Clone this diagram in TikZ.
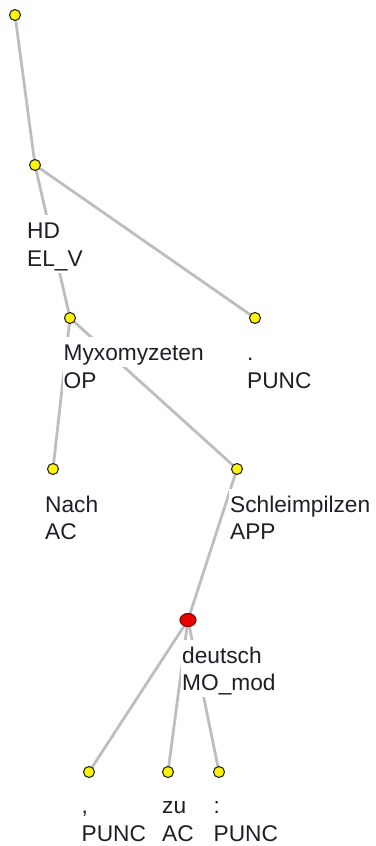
\documentclass[tikz,border=0pt]{standalone}
\usepackage{fontspec}
\setmainfont{Liberation Sans}
\usetikzlibrary{shapes.geometric}
\pgfdeclarelayer{bg}
\pgfdeclarelayer{edges}
\pgfsetlayers{bg,edges,main}
\definecolor{edgegray}{RGB}{190,190,190}
\definecolor{txt}{RGB}{30,30,40}
\definecolor{dotyellow}{RGB}{255,245,0}
\definecolor{dotred}{RGB}{230,0,0}
\tikzset{
 dot/.style={circle, fill=dotyellow, draw=black!85, line width=1.1pt, minimum size=11pt, inner sep=0pt},
 reddot/.style={ellipse, fill=dotred, draw=red!50!black, line width=1.1pt, minimum width=16pt, minimum height=13pt, inner sep=0pt},
 lab/.style={anchor=base west, fill=white, inner sep=1pt, text height=22pt, text depth=6pt, text=txt, font=\fontsize{22.7pt}{28pt}\selectfont},
 edge/.style={draw=edgegray, line width=2.8pt}
}
\begin{document}
\begin{tikzpicture}[x=1pt,y=-1pt]
\begin{pgfonlayer}{bg}
\fill[white] (0,0) rectangle (375,846);
\end{pgfonlayer}
\useasboundingbox (0,0) rectangle (375,846);
% dots
\node[dot] (r) at (15,15) {};
\node[dot] (n1) at (35,165) {};
\node[dot] (n2) at (70,318) {};
\node[dot] (n3) at (255,318) {};
\node[dot] (n4) at (53,469) {};
\node[dot] (n5) at (237,469) {};
\node[reddot] (n6) at (188,620) {};
\node[dot] (n7) at (89,772) {};
\node[dot] (n8) at (168,772) {};
\node[dot] (n9) at (219,772) {};
% labels
\node[lab] (l1a) at (26,238) {HD};
\node[lab] (l1b) at (26,266) {EL\_V};
\node[lab] (l2a) at (62.5,360) {Myxomyzeten};
\node[lab] (l2b) at (62.5,388) {OP};
\node[lab] (l3a) at (246,360) {.};
\node[lab] (l3b) at (246,388) {PUNC};
\node[lab] (l4a) at (44,512) {Nach};
\node[lab] (l4b) at (44,539) {AC};
\node[lab] (l5a) at (229,512) {Schleimpilzen};
\node[lab] (l5b) at (229,539) {APP};
\node[lab] (l6a) at (181,663) {deutsch};
\node[lab] (l6b) at (181,690) {MO\_mod};
\node[lab] (l7a) at (80.5,813) {,};
\node[lab] (l7b) at (80.5,841) {PUNC};
\node[lab] (l8a) at (161,813) {zu};
\node[lab] (l8b) at (161,841) {AC};
\node[lab] (l9a) at (212.5,813) {:};
\node[lab] (l9b) at (212.5,841) {PUNC};
% edges
\begin{pgfonlayer}{edges}
\draw[edge] (r.center) -- (n1.center);
\draw[edge] (n1.center) -- (n2.center);
\draw[edge] (n1.center) -- (n3.center);
\draw[edge] (n2.center) -- (n4.center);
\draw[edge] (n2.center) -- (n5.center);
\draw[edge] (n5.center) -- (n6.center);
\draw[edge] (n6.center) -- (n7.center);
\draw[edge] (n6.center) -- (n8.center);
\draw[edge] (n6.center) -- (n9.center);
\end{pgfonlayer}
\end{tikzpicture}
\end{document}
